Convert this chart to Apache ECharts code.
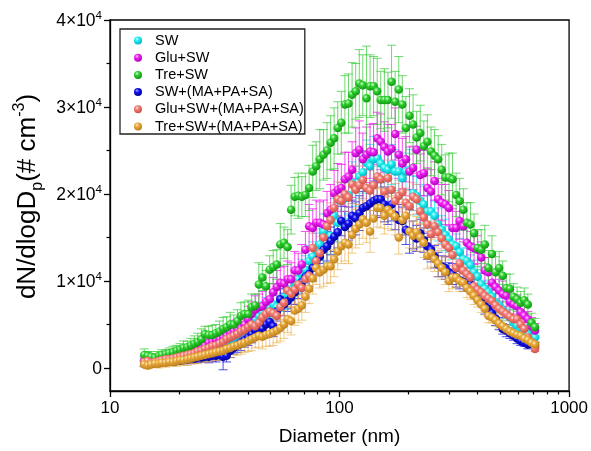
<!DOCTYPE html>
<html>
<head>
<meta charset="utf-8">
<script src="https://cdn.jsdelivr.net/npm/echarts@6/dist/echarts.min.js"></script>
<style>
  html, body { margin: 0; padding: 0; background: #fff; }
  #chart { width: 591px; height: 451px; }
</style>
</head>
<body>
<div id="chart"></div>
<script>
// SMPS channel midpoints (nm), 64 channels per decade
const diameters = [
  14.1, 14.6, 15.1, 15.7, 16.3, 16.8, 17.5, 18.1, 18.8, 19.5,
  20.2, 20.9, 21.7, 22.5, 23.3, 24.1, 25.0, 25.9, 26.9, 27.9,
  28.9, 30.0, 31.1, 32.2, 33.4, 34.6, 35.9, 37.2, 38.5, 40.0,
  41.4, 42.9, 44.5, 46.1, 47.8, 49.6, 51.4, 53.3, 55.2, 57.3,
  59.4, 61.5, 63.8, 66.1, 68.5, 71.0, 73.7, 76.4, 79.1, 82.0,
  85.1, 88.2, 91.4, 94.7, 98.2, 101.8, 105.5, 109.4, 113.4, 117.6,
  121.9, 126.3, 131.0, 135.8, 140.7, 145.9, 151.2, 156.8, 162.5, 168.5,
  174.7, 181.1, 187.7, 194.6, 201.7, 209.1, 216.7, 224.7, 232.9, 241.4,
  250.3, 259.5, 269.0, 278.8, 289.0, 299.6, 310.6, 322.0, 333.8, 346.0,
  358.7, 371.8, 385.4, 399.5, 414.2, 429.4, 445.1, 461.4, 478.3, 495.8,
  514.0, 532.8, 552.3, 572.5, 593.5, 615.3, 637.8, 661.2, 685.4, 710.5
];

// dN/dlogDp (# cm^-3)
const sw = [
  500, 600, 700, 600, 700, 800, 800, 900, 900, 1000, 1100, 1100, 1200, 1300, 1400, 1500,
  1600, 1800, 2000, 2200, 2400, 2600, 2800, 3000, 3300, 3500, 3800, 4100, 4500, 4800, 5200, 5600,
  6000, 6400, 6800, 7000, 7300, 7000, 7800, 8100, 8400, 9000, 9800, 10200, 10800, 11300, 12300, 12800,
  13600, 14200, 15700, 14000, 15200, 17500, 16700, 19200, 19500, 19900, 21300, 20900, 22000, 22500, 23600, 23200,
  24000, 24100, 23500, 23000, 22800, 23400, 22600, 22600, 21800, 22600, 22800, 20100, 19800, 19200, 18800, 18000,
  18000, 17500, 16500, 15900, 15300, 14800, 14200, 14000, 13300, 12500, 12300, 11800, 11000, 10500, 9600, 9100,
  8700, 8200, 7500, 7200, 6700, 6200, 5800, 5200, 4900, 4600, 4300, 3900, 4800, 3500
];
const gluSw = [
  900, 1000, 900, 1100, 1000, 1200, 1300, 1200, 1400, 1500, 1600, 1700, 1800, 2000, 2100, 2300,
  2500, 2600, 2900, 3000, 3200, 3300, 3500, 3700, 4000, 4200, 4400, 4500, 5000, 5600, 6200, 6700,
  7000, 7100, 7600, 7900, 8700, 9300, 9800, 9700, 10200, 10200, 11200, 11200, 11900, 13600, 16300, 16100,
  16700, 16700, 16500, 17800, 18200, 20100, 20500, 20700, 21700, 22000, 22800, 24700, 25100, 24000, 24500, 24900,
  24800, 26400, 26000, 25400, 24900, 25200, 26900, 24500, 23500, 24000, 22600, 23000, 25100, 22200, 22400, 20700,
  20300, 21500, 19400, 19000, 18800, 18400, 16100, 16100, 16900, 16300, 14400, 14000, 13800, 13600, 12700, 11200,
  11000, 9800, 9300, 8900, 8500, 8300, 7600, 7300, 7100, 6400, 6000, 5600, 4800, 4300
];
const treSw = [
  1500, 1400, 1300, 1200, 1400, 1500, 1600, 1700, 1800, 2000, 2100, 2300, 2400, 2600, 2800, 3000,
  3300, 3900, 3800, 3800, 4000, 4200, 4500, 4700, 5000, 5000, 5400, 6000, 6200, 6200, 7000, 7200,
  9600, 10400, 9400, 11300, 11600, 11900, 14200, 14400, 13900, 18200, 19700, 19800, 19700, 19900, 20700, 22600,
  23200, 24000, 24500, 25000, 25900, 26400, 27600, 28200, 30300, 30400, 31400, 31800, 32700, 32500, 31000, 32400,
  32400, 31800, 30800, 30800, 30800, 32900, 30600, 32000, 30300, 27600, 29000, 28000, 26500, 27000, 25500, 26000,
  24900, 24400, 24000, 22800, 21900, 21900, 21700, 19900, 19200, 18200, 16700, 16500, 15500, 13800, 13600, 14200,
  11500, 13100, 11000, 11500, 10600, 9200, 9100, 8200, 7900, 7500, 7800, 7300, 5200, 4700
];
const swMix = [
  500, 400, 500, 600, 600, 700, 700, 800, 800, 900, 900, 1000, 1000, 1100, 1100, 1200,
  1200, 1300, 1300, 1400, 1400, 1500, 1300, 1400, 2000, 2300, 2600, 2900, 3200, 3500, 3900, 4300,
  4600, 4500, 5000, 5300, 4800, 6500, 7900, 7300, 7700, 8100, 8700, 9300, 9900, 10500, 10800, 11500,
  12300, 12800, 13600, 14000, 14600, 15100, 15600, 16900, 16200, 16600, 17500, 17200, 17800, 18400, 18600, 18900,
  19200, 19400, 19400, 18800, 18300, 18800, 17600, 17000, 16900, 15900, 15700, 15300, 14900, 15500, 14700, 14000,
  13600, 12800, 11900, 11700, 11500, 11000, 10800, 10400, 10100, 9900, 9800, 9600, 9200, 8700, 8000, 7100,
  6800, 6300, 5700, 5100, 4500, 4300, 4000, 3700, 3400, 3100, 2900, 2700, 2800, 2600
];
const gluSwMix = [
  700, 800, 600, 700, 800, 900, 1000, 1000, 1100, 1200, 1300, 1400, 1500, 1600, 1700, 1900,
  2000, 2200, 2300, 2500, 2600, 2800, 3000, 3300, 3500, 3700, 3900, 4200, 4400, 4700, 5000, 4800,
  5200, 5800, 6200, 6500, 6300, 6000, 7000, 7500, 8900, 8500, 9000, 9600, 9200, 10200, 10600, 13800,
  12300, 13200, 15000, 16300, 17000, 18400, 19400, 19200, 20000, 19600, 21100, 20500, 21000, 21600, 20700, 20400,
  21000, 22000, 21700, 20300, 21800, 20500, 19200, 19800, 20200, 19000, 18600, 19700, 19400, 18000, 17300, 16500,
  15400, 16300, 15600, 14900, 14200, 13800, 13000, 11500, 12000, 11200, 10800, 10400, 9400, 9000, 8700, 8300,
  8000, 7700, 7200, 6800, 6500, 6200, 5900, 5600, 5600, 5000, 4500, 3500, 3000, 2200
];
const treSwMix = [
  400, 300, 400, 500, 500, 600, 600, 700, 700, 800, 900, 900, 1000, 1100, 1200, 1300,
  1400, 1500, 1600, 1700, 1800, 1900, 2000, 2200, 2300, 2500, 2600, 2800, 2900, 3100, 3300, 3500,
  3700, 3600, 3800, 3900, 4100, 4300, 4600, 5000, 5600, 5400, 6600, 6800, 7200, 8200, 9100, 10300,
  11500, 11000, 11300, 11700, 11700, 12500, 13400, 14000, 14400, 14200, 15300, 16000, 16500, 17100, 16700, 15700,
  17200, 18400, 18400, 17500, 18200, 17800, 17400, 15000, 17000, 17500, 15700, 15200, 15600, 15000, 14400, 12900,
  13200, 12500, 12000, 11500, 11000, 10000, 10400, 10400, 10000, 9800, 9200, 8800, 8300, 7800, 7300, 6800,
  6000, 5800, 5500, 5100, 4800, 4500, 4200, 4000, 3800, 3700, 3400, 3200, 2900, 2700
];

// standard deviations (same units)
const swErr = [
  300, 400, 300, 400, 300, 400, 500, 400, 500, 400, 500, 600, 500, 600, 500, 600,
  700, 600, 700, 800, 700, 800, 900, 800, 900, 1000, 900, 1000, 1100, 1000, 1100, 1200,
  1100, 1200, 1300, 1200, 1300, 1400, 1300, 1400, 1500, 1400, 1600, 1500, 1700, 1600, 1800, 1700,
  1900, 1800, 2000, 1900, 2100, 2000, 2200, 2100, 2300, 2200, 2400, 2300, 2500, 2400, 2600, 2500,
  2600, 2500, 2700, 2400, 2600, 2300, 2500, 2200, 2400, 2100, 2300, 2000, 2200, 1900, 2100, 1800,
  2000, 1700, 1900, 1600, 1800, 1500, 1700, 1400, 1600, 1300, 1500, 1200, 1400, 1100, 1300, 1000,
  1200, 900, 1100, 800, 1000, 700, 900, 600, 800, 500, 700, 400, 600, 500
];
const gluSwErr = [
  400, 500, 400, 500, 600, 500, 600, 500, 600, 700, 600, 700, 800, 700, 800, 900,
  800, 900, 1000, 900, 1000, 1100, 1000, 1200, 1100, 1300, 1200, 1400, 1300, 1500, 1400, 1600,
  1500, 1700, 1600, 1800, 1700, 1900, 1800, 2000, 2100, 1900, 2200, 2000, 2300, 2100, 2500, 2200,
  2600, 2400, 2800, 2500, 2900, 2600, 3000, 2700, 3100, 2800, 3200, 2900, 3300, 3000, 3200, 3100,
  3300, 3000, 3200, 2900, 3100, 2800, 3000, 2700, 2900, 2600, 2800, 2500, 2700, 2400, 2600, 2300,
  2500, 2200, 2400, 2100, 2300, 2000, 2200, 1900, 2100, 1800, 2000, 1700, 1900, 1600, 1800, 1500,
  1700, 1400, 1600, 1300, 1500, 1200, 1400, 1100, 1300, 1000, 1200, 900, 1000, 800
];
const treSwErr = [
  700, 500, 600, 400, 500, 600, 500, 600, 700, 600, 700, 800, 700, 800, 900, 1000,
  1200, 900, 1000, 1100, 1000, 1200, 1300, 1200, 1400, 1100, 1300, 1500, 1400, 1600, 1500, 1300,
  2500, 1500, 1800, 1600, 1900, 1700, 2400, 1800, 2000, 2800, 2200, 2600, 2300, 2500, 2600, 3000,
  2800, 3400, 2900, 3200, 3100, 3500, 3000, 3600, 3300, 3400, 3700, 3200, 3900, 3500, 6000, 3600,
  3400, 3800, 3300, 3600, 3200, 4200, 3500, 3800, 3300, 3600, 3100, 3400, 3000, 3200, 2900, 3100,
  2800, 3000, 2700, 2900, 2600, 2800, 3000, 2500, 2600, 2400, 2300, 2500, 2200, 2100, 2300, 2200,
  2000, 2100, 1800, 1900, 1700, 1600, 1700, 1500, 1400, 1300, 1400, 1200, 1100, 1000
];
const swMixErr = [
  300, 200, 300, 400, 300, 400, 300, 400, 500, 400, 500, 400, 500, 600, 500, 600,
  500, 600, 700, 600, 700, 600, 1500, 700, 800, 700, 800, 900, 800, 900, 1000, 900,
  1000, 1100, 1000, 1100, 1200, 1100, 1200, 1300, 1200, 1300, 1400, 1300, 1400, 1500, 1400, 1500,
  1600, 1500, 1600, 1700, 1600, 1700, 1800, 1700, 1800, 1900, 1800, 1900, 2000, 1900, 2000, 1900,
  2000, 2100, 1900, 2000, 1800, 1900, 1700, 1800, 1600, 1700, 2500, 1600, 1500, 1600, 1400, 1500,
  1400, 1300, 1400, 1200, 1300, 1100, 1200, 1100, 1000, 1100, 1000, 900, 1000, 900, 800, 900,
  800, 700, 800, 700, 600, 700, 600, 500, 600, 500, 400, 500, 400, 300
];
const gluSwMixErr = [
  400, 300, 400, 300, 400, 500, 400, 500, 600, 500, 600, 500, 600, 700, 600, 700,
  800, 700, 800, 900, 800, 900, 1000, 900, 1000, 1100, 1000, 1100, 1200, 1100, 1200, 1300,
  1200, 1300, 1400, 1300, 1400, 1500, 1400, 1500, 1600, 1500, 1600, 1700, 1600, 1700, 1800, 1700,
  1800, 1900, 1800, 1900, 2000, 1900, 2000, 2100, 2000, 2100, 2200, 2100, 2200, 2100, 2200, 2300,
  2200, 2100, 2200, 2000, 2100, 1900, 2000, 1800, 1900, 1700, 1800, 1600, 1700, 1500, 1600, 1400,
  1500, 1300, 1400, 1200, 1300, 1100, 1200, 1000, 1100, 900, 1000, 800, 900, 700, 800, 600,
  700, 600, 700, 500, 600, 500, 400, 500, 400, 300, 400, 300, 400, 300
];
const treSwMixErr = [
  300, 400, 300, 400, 500, 400, 500, 400, 500, 600, 500, 600, 700, 600, 700, 800,
  700, 800, 900, 800, 900, 1000, 900, 1000, 1100, 1000, 1100, 1200, 1100, 1200, 1300, 1200,
  1300, 1400, 1300, 1400, 1500, 1400, 1500, 1600, 1500, 1600, 1700, 1600, 1700, 1800, 1700, 1800,
  1900, 1800, 1900, 2000, 1900, 2000, 2100, 2000, 2100, 2200, 2100, 2200, 2300, 2200, 2300, 2400,
  2300, 2200, 2300, 2100, 2200, 2000, 2100, 1900, 2000, 1800, 1900, 1700, 1800, 1600, 1700, 1500,
  1600, 1400, 1500, 1300, 1400, 1200, 1300, 1100, 1200, 1000, 1100, 900, 1000, 800, 900, 700,
  800, 600, 700, 500, 600, 500, 400, 500, 400, 300, 400, 300, 400, 300
];

const seriesNames = ['SW', 'Glu+SW', 'Tre+SW', 'SW+(MA+PA+SA)', 'Glu+SW+(MA+PA+SA)', 'Tre+SW+(MA+PA+SA)'];
const seriesValues = [sw, gluSw, treSw, swMix, gluSwMix, treSwMix];
const seriesErrors = [swErr, gluSwErr, treSwErr, swMixErr, gluSwMixErr, treSwMixErr];
// [light, base, dark, error bar]
const palette = [
  ['#d0ffff', '#20f0f0', '#00b0c0', 'rgba(20,230,240,0.75)'],
  ['#ffd0ff', '#f020f0', '#a800b8', 'rgba(240,20,240,0.75)'],
  ['#d0ffd0', '#30d030', '#109010', 'rgba(60,205,60,0.75)'],
  ['#a8a8ff', '#1010f0', '#000090', 'rgba(20,20,230,0.75)'],
  ['#ffe4e0', '#f27a70', '#c85048', 'rgba(242,130,120,0.6)'],
  ['#fff2cc', '#e8a838', '#b87c1c', 'rgba(232,168,56,0.6)']
];

const yLabelValues = [0, 10000, 20000, 30000, 40000];
const yMinorValues = [5000, 15000, 25000, 35000];
const xMinorValues = [20, 30, 40, 50, 60, 70, 80, 90, 200, 300, 400, 500, 600, 700, 800, 900];

const FONT = 'Liberation Sans, Arial, sans-serif';

function ball(p) {
  return {
    type: 'radial', x: 0.38, y: 0.32, r: 0.72,
    colorStops: [
      { offset: 0, color: p[0] },
      { offset: 0.35, color: p[1] },
      { offset: 1, color: p[2] }
    ]
  };
}

const chart = echarts.init(document.getElementById('chart'), null, { renderer: 'canvas' });

const series = [];
seriesNames.forEach((name, k) => {
  const pts = diameters.map((d, i) => [d, seriesValues[k][i], seriesErrors[k][i]]);
  series.push({
    type: 'custom',
    name: name + ' err',
    xAxisIndex: 0,
    yAxisIndex: 0,
    z: 2,
    silent: true,
    clip: true,
    data: pts,
    renderItem: function (params, api) {
      const x = api.value(0), y = api.value(1), e = api.value(2);
      const top = api.coord([x, y + e]);
      const bot = api.coord([x, y - e]);
      const hw = 4.5;
      const style = { stroke: palette[k][3], lineWidth: 1 };
      return {
        type: 'group',
        children: [
          { type: 'line', shape: { x1: top[0], y1: top[1], x2: bot[0], y2: bot[1] }, style: style },
          { type: 'line', shape: { x1: top[0] - hw, y1: top[1], x2: top[0] + hw, y2: top[1] }, style: style },
          { type: 'line', shape: { x1: bot[0] - hw, y1: bot[1], x2: bot[0] + hw, y2: bot[1] }, style: style }
        ]
      };
    }
  });
  series.push({
    type: 'scatter',
    name: name,
    xAxisIndex: 0,
    yAxisIndex: 0,
    z: 3,
    symbol: 'circle',
    symbolSize: 8.5,
    data: pts.map(p => [p[0], p[1]]),
    itemStyle: { color: ball(palette[k]), opacity: 1 }
  });
});

const option = {
  animation: false,
  backgroundColor: '#fff',
  grid: { left: 110, top: 20, right: 20, bottom: 59, show: true, borderColor: '#000', borderWidth: 1.3, backgroundColor: 'transparent' },
  legend: {
    data: seriesNames,
    orient: 'vertical',
    left: 120, top: 29,
    padding: [4, 1, 0, 14],
    itemWidth: 8, itemHeight: 8,
    itemGap: 2.2,
    icon: 'circle',
    borderColor: '#222', borderWidth: 1.3,
    textStyle: { fontFamily: FONT, fontSize: 14.5, color: '#000', padding: [0, 0, 0, 8] }
  },
  xAxis: [{
    type: 'log', logBase: 10, min: 10, max: 1000,
    name: 'Diameter (nm)', nameLocation: 'middle', nameGap: 36,
    nameTextStyle: { fontFamily: FONT, fontSize: 19, color: '#000' },
    axisLine: { onZero: false, lineStyle: { color: '#000', width: 1.3 } },
    axisTick: { length: 6, lineStyle: { color: '#000', width: 1.3 } },
    axisLabel: { fontFamily: FONT, fontSize: 17, color: '#000', margin: 9, formatter: v => String(v) },
    splitLine: { show: false }
  }, {
    type: 'value', min: 1, max: 3, position: 'bottom',
    axisLine: { show: false, onZero: false },
    axisTick: { show: true, length: 3.5, lineStyle: { color: '#000', width: 1.2 }, customValues: xMinorValues.map(Math.log10) },
    axisLabel: { show: false },
    splitLine: { show: false }
  }],
  yAxis: [{
    type: 'value', min: -2640, max: 40000,
    name: '{a|dN/dlogD}{p|p}{a|(# cm}{s|-3}{a|)}',
    nameLocation: 'middle', nameGap: 60, nameRotate: 90,
    nameTextStyle: {
      fontFamily: FONT, fontSize: 26, color: '#000',
      padding: [0, 0, 0, 18],
      rich: {
        a: { fontFamily: FONT, fontSize: 26, color: '#000', lineHeight: 30, verticalAlign: 'bottom' },
        p: { fontFamily: FONT, fontSize: 16, color: '#000', lineHeight: 13, verticalAlign: 'bottom', padding: [0, 0, -4, 0] },
        s: { fontFamily: FONT, fontSize: 16, color: '#000', lineHeight: 13, verticalAlign: 'top' }
      }
    },
    axisLine: { onZero: false, lineStyle: { color: '#000', width: 1.3 } },
    axisTick: { length: 6, lineStyle: { color: '#000', width: 1.3 }, customValues: yLabelValues },
    axisLabel: {
      customValues: yLabelValues,
      margin: 8,
      fontFamily: FONT, fontSize: 17.5, color: '#000',
      formatter: function (v) {
        return v === 0 ? '{b|0}' : '{b|' + (v / 10000) + '×10}{s|4}';
      },
      rich: {
        b: { fontFamily: FONT, fontSize: 17.5, color: '#000', lineHeight: 20, verticalAlign: 'bottom' },
        s: { fontFamily: FONT, fontSize: 11.5, color: '#000', lineHeight: 10, verticalAlign: 'top' }
      }
    },
    splitLine: { show: false }
  }, {
    type: 'value', min: -2640, max: 40000, position: 'left',
    axisLine: { show: false, onZero: false },
    axisTick: { show: true, length: 3.5, lineStyle: { color: '#000', width: 1.2 }, customValues: yMinorValues },
    axisLabel: { show: false },
    splitLine: { show: false }
  }],
  series: series
};

chart.setOption(option);
</script>
</body>
</html>
